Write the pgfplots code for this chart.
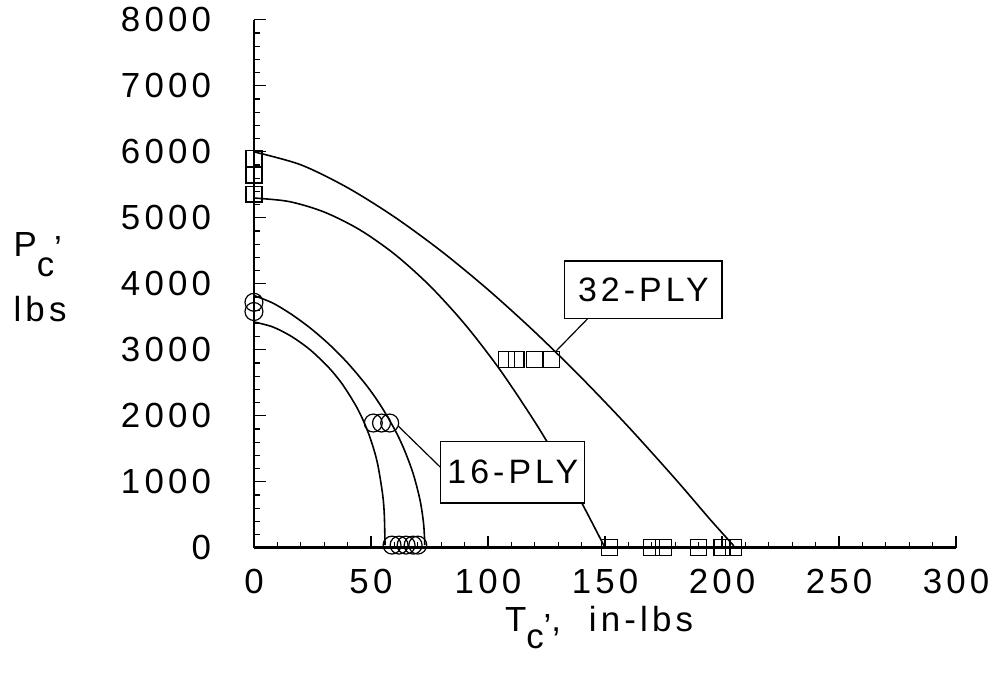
\documentclass[border=0pt]{standalone}
\usepackage{fontspec}
\setmainfont{Liberation Sans}[LetterSpace=12]
\usepackage{pgfplots}
\pgfplotsset{compat=1.18}

\begin{document}
\begin{tikzpicture}
\begin{axis}[
    scale only axis,
    width=352.5pt, height=265pt,
    xmin=0, xmax=300, ymin=0, ymax=8000,
    axis lines*=left,
    axis line style={line width=1.4pt},
    xtick={0,50,...,300}, minor x tick num=4,
    ytick={0,1000,...,8000}, minor y tick num=4,
    tick align=inside,
    major tick length=6pt, minor tick length=3pt,
    tick style={black, line width=0.6pt},
    scaled y ticks=false,
    /pgf/number format/1000 sep={},
    /pgf/number format/assume math mode=true,
    tick label style={font=\fontsize{17.5}{20}\selectfont},
    xticklabel style={yshift=-7pt},
    yticklabel style={xshift=-18pt},
    clip=false,
]
% bounding frame of the whole picture
\path (rel axis cs:-0.3617,-0.2415) rectangle (rel axis cs:1.051,1.0377);

% 32-ply curves
\addplot[no marks, line width=0.8pt, smooth] coordinates {
    (0,6000) (20,5804) (40,5457) (60,5014) (80,4496) (100,3912)
    (120,3270) (140,2574) (160,1832) (180,1044) (195,425) (205,30) };
\addplot[no marks, line width=0.8pt, smooth] coordinates {
    (0,5300) (15,5247) (30,5088) (45,4823) (60,4452) (75,3975)
    (90,3392) (105,2703) (120,1908) (130,1319) (140,683) (150,0) };
% 16-ply curves
\addplot[no marks, line width=0.8pt, smooth] coordinates {
    (0,3823) (8,3709) (16,3538) (24,3331) (32,3087) (40,2801) (48,2464)
    (54,2163) (60,1801) (64,1505) (68,1126) (71,715) (72.5,357) (73,40) };
\addplot[no marks, line width=0.8pt, smooth] coordinates {
    (0,3422) (8,3347) (16,3203) (24,3000) (32,2729) (38,2467) (44,2124)
    (48,1821) (51,1517) (53,1242) (55,803) (55.7,497) (56,40) };

% 32-ply test points
\addplot[only marks, mark=square, mark size=4pt, mark options={line width=0.6pt}] coordinates {
    (0,5900) (0,5650) (0,5360)
    (108,2850) (112,2850) (120,2850) (127,2850)
    (152,0) (170,0) (175,0) (190,0) (200,0) (205,0) };
% 16-ply test points
\addplot[only marks, mark=o, mark size=4.5pt, mark options={line width=0.6pt}] coordinates {
    (0,3580) (0,3720)
    (51,1890) (54.5,1890) (58,1890)
    (59,40) (62,40) (65,40) (68,40) (70,40) };

% callouts
\draw[line width=0.6pt] (axis cs:142.6,3472) -- (axis cs:128.9,2974);
\draw[line width=0.6pt] (axis cs:80,1208) -- (axis cs:61.7,1842);
\node[draw, fill=white, line width=0.6pt, minimum width=79pt, minimum height=29pt,
      font=\fontsize{17}{20}\selectfont] at (axis cs:166.4,3909) {32-PLY};
\node[draw, fill=white, line width=0.6pt, minimum width=72pt, minimum height=31pt,
      font=\fontsize{17}{20}\selectfont] at (axis cs:110.6,1147) {16-PLY};

% axis titles
\node[anchor=base west, inner sep=0pt, font=\fontsize{17.5}{20}\selectfont]
    at (rel axis cs:-0.343,0.551) {P\raisebox{-0.55em}{c}\raisebox{-0.1em}{'}};
\node[anchor=base west, inner sep=0pt, font=\fontsize{17.5}{20}\selectfont]
    at (rel axis cs:-0.343,0.428) {lbs};
\node[anchor=base west, inner sep=0pt, font=\fontsize{17.5}{20}\selectfont]
    at (rel axis cs:0.357,-0.158) {T\raisebox{-0.5em}{c}\raisebox{-0.2em}{'},\ \ in-lbs};
\end{axis}
\end{tikzpicture}
\end{document}
